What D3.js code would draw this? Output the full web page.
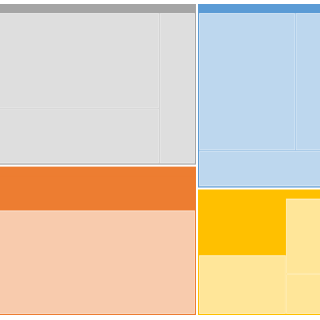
<!DOCTYPE html>
<html><head><meta charset="utf-8">
<script src="https://cdn.jsdelivr.net/npm/d3@7"></script>
<style>html,body{margin:0;padding:0;background:#fff;} svg{display:block}</style>
</head><body>
<svg id="chart" width="320" height="320"></svg>
<script>
// Top-level categories and their colours
const categories = ["Gray", "Orange", "Blue", "Yellow"];
const bannerColors = ["#a5a5a5", "#ed7d31", "#5b9bd5", "#ffc000"];
const leafColors = ["#dedede", "#f8cbad", "#bdd7ee", "#ffe699"];

// Leaves per category (a leaf named like its category is the category's own value)
const grayItems = ["G1", "G2", "G3"];
const grayValues = [16500, 9600, 5800];
const orangeItems = ["Orange", "O1"];
const orangeValues = [7400, 22100];
const blueItems = ["B1", "B2", "B3"];
const blueValues = [14360, 3820, 4750];
const yellowItems = ["Yellow", "Y1", "Y2", "Y3"];
const yellowValues = [5510, 5720, 2960, 1570];

const itemLists = [grayItems, orangeItems, blueItems, yellowItems];
const valueLists = [grayValues, orangeValues, blueValues, yellowValues];

const data = {
  name: "root",
  children: categories.map((c, i) => ({
    name: c,
    children: itemLists[i].map((n, j) => ({ name: n, value: valueLists[i][j] }))
  }))
};

// Two-strip tiling for the inner level (first strip holds ~2/3 of the value)
function stripTile(parent, x0, y0, x1, y1) {
  const nodes = parent.children;
  const total = parent.value;
  const wide = (x1 - x0) >= (y1 - y0);
  let acc = 0, k = 0;
  while (k < nodes.length) { acc += nodes[k].value; k++; if (acc / total >= 0.67) break; }
  const strips = [nodes.slice(0, k), nodes.slice(k)].filter(s => s.length);
  const pos = d3.scaleLinear().domain([0, total]).range(wide ? [x0, x1] : [y0, y1]);
  let offset = 0;
  strips.forEach(s => {
    const v = d3.sum(s, d => d.value);
    const row = { children: s, value: v };
    if (wide) d3.treemapSlice(row, pos(offset), y0, pos(offset + v), y1);
    else d3.treemapDice(row, x0, pos(offset), x1, pos(offset + v));
    offset += v;
  });
}
const tile = (node, x0, y0, x1, y1) =>
  (node.depth === 0 ? d3.treemapSquarify : stripTile)(node, x0, y0, x1, y1);

const W = 324, H = 311;
const root = d3.hierarchy(data).sum(d => d.value || 0);
d3.treemap()
  .size([W, H])
  .tile(tile)
  .paddingInner(d => d.depth === 0 ? 2 : 0)
  .paddingTop(d => d.depth === 1 ? 9 : 0)
  .paddingLeft(d => d.depth === 1 ? 1 : 0)
  .paddingRight(d => d.depth === 1 ? 1 : 0)
  .paddingBottom(d => d.depth === 1 ? 1 : 0)(root);

const svg = d3.select("#chart");
const g = svg.append("g").attr("transform", "translate(-2,4)");

const color = d3.scaleOrdinal().domain(categories).range(bannerColors);
const light = d3.scaleOrdinal().domain(categories).range(leafColors);

g.selectAll("rect.group")
  .data(root.children)
  .join("rect")
  .attr("class", "group")
  .attr("x", d => d.x0).attr("y", d => d.y0)
  .attr("width", d => d.x1 - d.x0).attr("height", d => d.y1 - d.y0)
  .attr("fill", d => color(d.data.name));

g.selectAll("rect.leaf")
  .data(root.leaves())
  .join("rect")
  .attr("class", "leaf")
  .attr("x", d => d.x0 + 0.5).attr("y", d => d.y0 + 0.5)
  .attr("width", d => Math.max(0, d.x1 - d.x0 - 1)).attr("height", d => Math.max(0, d.y1 - d.y0 - 1))
  .attr("fill", d => d.data.name === d.parent.data.name ? color(d.parent.data.name) : light(d.parent.data.name))
  .attr("stroke", d => d.data.name === d.parent.data.name ? color(d.parent.data.name) : "rgba(255,255,255,0.55)")
  .attr("stroke-width", 1);
</script>
</body></html>
